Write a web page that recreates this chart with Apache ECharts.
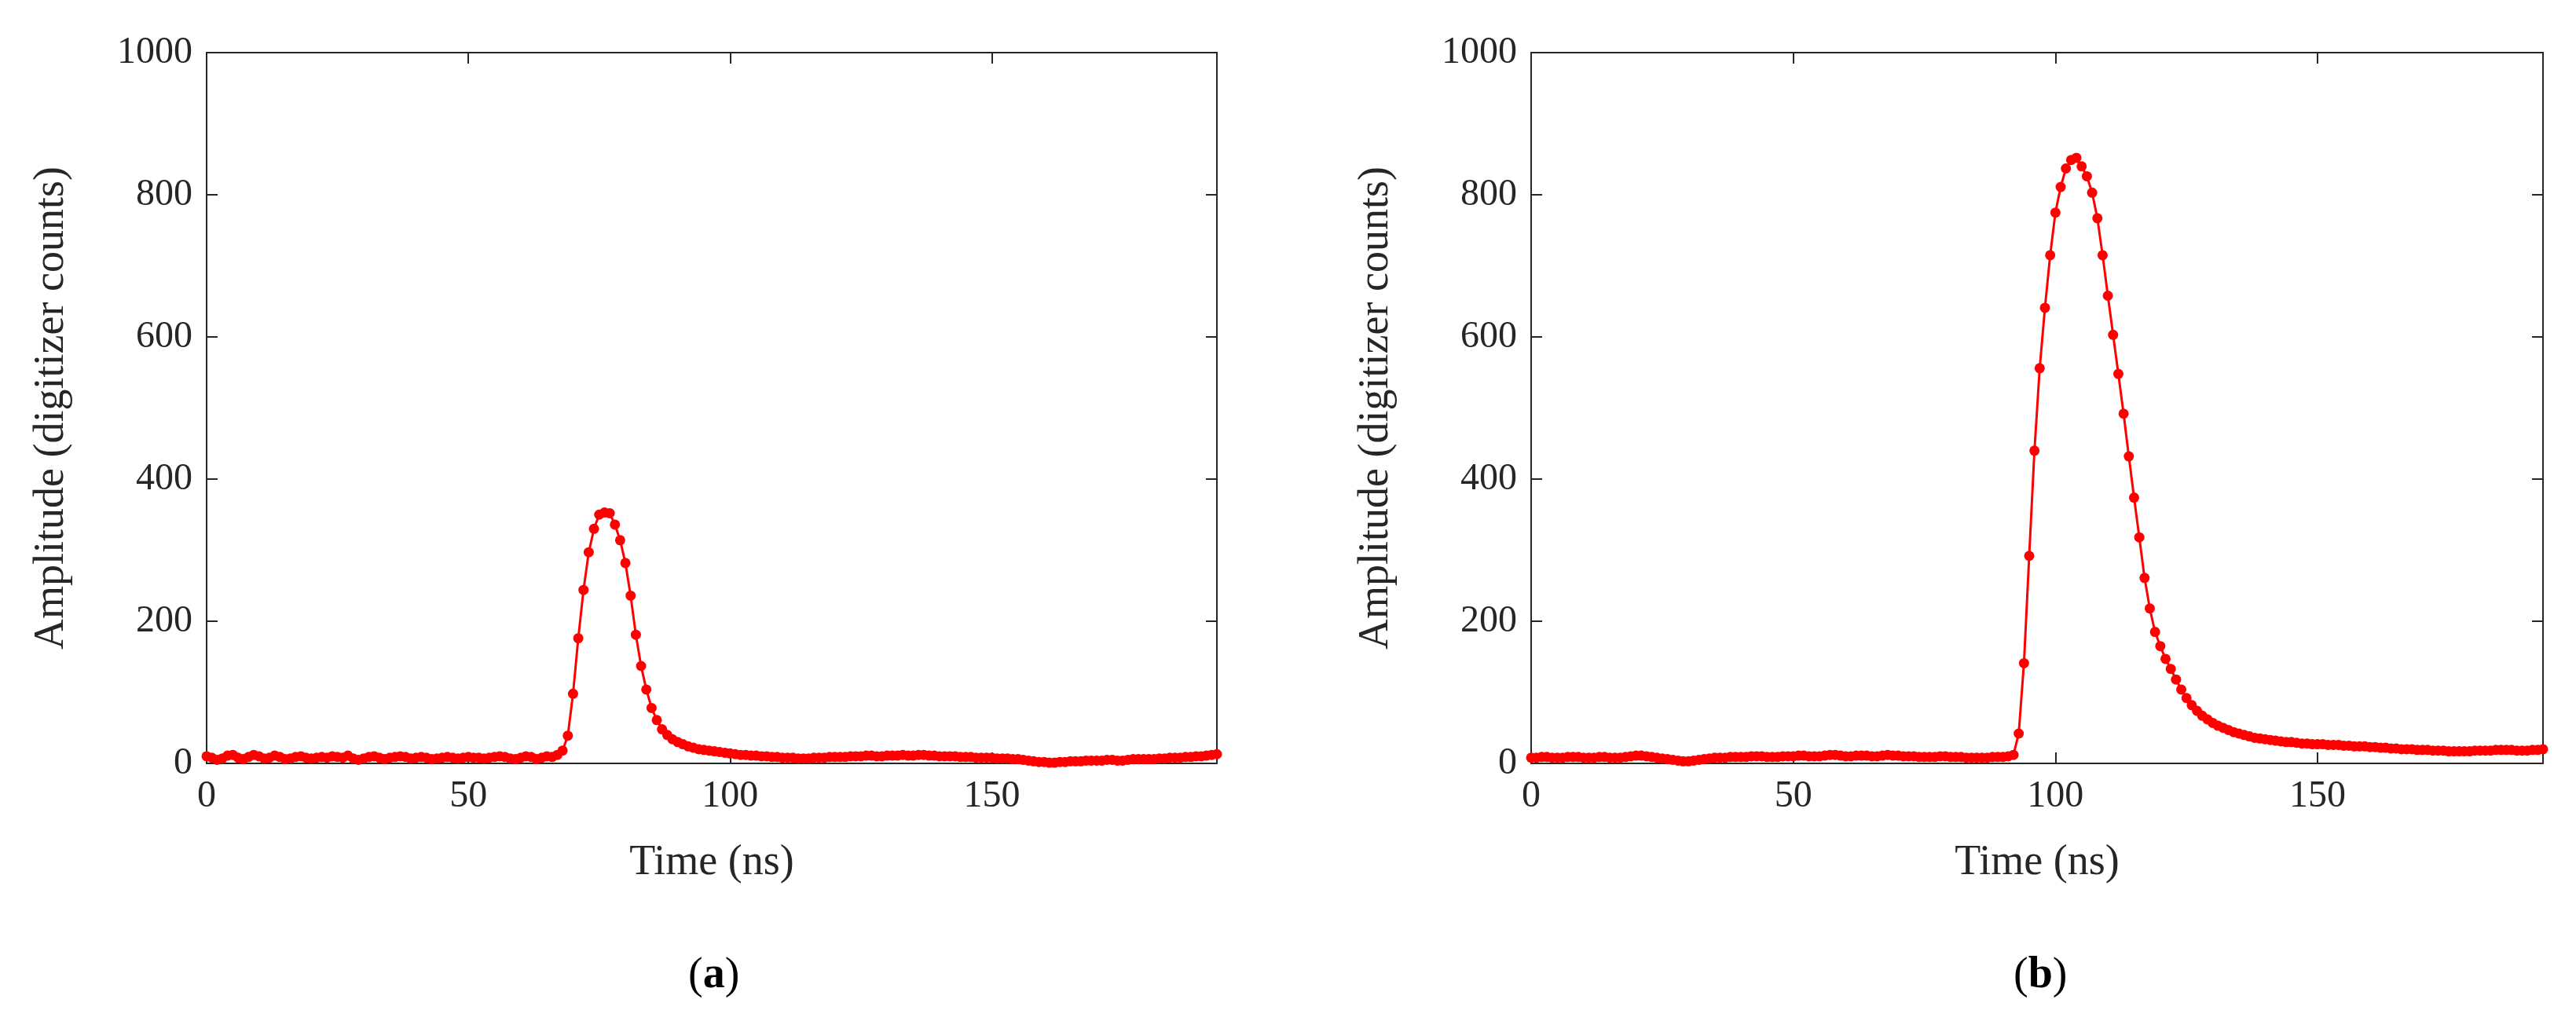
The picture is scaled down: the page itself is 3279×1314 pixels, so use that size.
<!DOCTYPE html>
<html><head><meta charset="utf-8">
<script src="https://cdn.jsdelivr.net/npm/echarts@6/dist/echarts.min.js"></script>
<style>html,body{margin:0;background:#fff}#c{width:3279px;height:1314px}</style>
</head><body><div id="c"></div>
<script>
const xTicks = [0, 50, 100, 150];
const yTicks = [0, 200, 400, 600, 800, 1000];
const ampA = [
10,8,5,7,11,12,8,6,9,12,
10,7,8,11,9,6,7,9,10,8,
7,8,9,8,10,9,8,11,7,5,
7,9,10,8,6,8,9,10,9,7,
8,9,8,6,7,8,9,8,7,8,
9,8,8,7,8,9,10,9,7,6,
8,10,9,6,8,10,9,12,
18,
39,98,176,244,297,330,350,353,352,336,314,282,236,181,137,104,78,61,48,40,34,30,27,24,22,20,19,18,17,16,15,14,
13,12,12,11,11,10,10,9,9,8,
8,8,7,7,7,8,8,8,9,9,
9,9,10,10,10,11,11,10,10,11,
11,11,12,11,11,12,12,11,11,10,
10,10,10,9,9,9,8,8,8,8,
7,7,7,6,6,5,4,3,2,2,
1,1,2,2,3,3,3,4,4,4,
4,5,5,4,4,5,6,6,6,6,
6,7,7,8,8,8,9,9,10,10,
11,12,13];
const ampB = [
8,8,9,9,8,8,8,9,9,9,
8,8,8,9,9,8,8,8,9,10,
11,11,10,9,8,7,6,5,4,3,
3,4,5,6,7,8,8,8,9,9,
9,9,10,10,10,9,9,9,10,10,
10,11,11,10,10,10,11,12,12,11,
10,10,11,11,11,10,10,11,12,11,
11,10,10,10,9,9,9,9,10,10,
9,9,9,8,8,8,8,8,9,9,
9,10,12,
42,141,292,440,556,641,715,775,811,837,849,852,840,826,803,767,715,658,603,548,492,432,374,318,261,218,185,165,147,133,118,104,92,82,74,67,62,57,53,50,47,44,42,40,38,36,35,34,
33,32,31,30,30,29,28,28,27,27,
27,26,26,26,25,25,24,24,24,23,
23,22,22,21,21,20,20,20,19,19,
19,18,18,18,17,17,17,17,17,18,
18,18,18,19,19,19,19,18,18,18,
19,19,20];
const panelLabels = ['a', 'b'];

const font = 'Liberation Serif';
const col = '#262626';
const grids = [
  {left: 263, top: 67, width: 1286, height: 905},
  {left: 1949, top: 67, width: 1288, height: 905}
];
const xAxis = [], yAxis = [], series = [];
function common() {
  return {min: 0, axisLine: {show: true, onZero: false, lineStyle: {color: col, width: 2}},
    axisTick: {show: true, inside: true, length: 14, lineStyle: {color: col, width: 2}},
    splitLine: {show: false}};
}
[ampA, ampB].forEach((amp, i) => {
  xAxis.push(Object.assign(common(), {type: 'value', gridIndex: i, position: 'bottom', max: 193, interval: 50,
    name: 'Time (ns)', nameLocation: 'middle', nameGap: 100,
    nameTextStyle: {fontFamily: font, fontSize: 54, color: col},
    axisLabel: {fontFamily: font, fontSize: 48, color: col, margin: 18, showMaxLabel: false}}));
  xAxis.push(Object.assign(common(), {type: 'value', gridIndex: i, max: 193, interval: 50, position: 'top', axisLabel: {show: false}}));
  yAxis.push(Object.assign(common(), {type: 'value', gridIndex: i, position: 'left', max: 1000, interval: 200,
    name: 'Amplitude (digitizer counts)', nameLocation: 'middle', nameGap: 170,
    nameTextStyle: {fontFamily: font, fontSize: 54, color: col},
    axisLabel: {fontFamily: font, fontSize: 48, color: col, margin: 18, formatter: v => String(v)}}));
  yAxis.push(Object.assign(common(), {type: 'value', gridIndex: i, max: 1000, interval: 200, position: 'right', axisLabel: {show: false}}));
  series.push({type: 'line', xAxisIndex: 2*i, yAxisIndex: 2*i,
    data: amp.map((v, t) => [t, v]), symbol: 'circle', symbolSize: 13,
    itemStyle: {color: '#ff0000'}, lineStyle: {color: '#ff0000', width: 3}, animation: false});
});
const graphic = panelLabels.map((l, i) => ({type: 'text', left: grids[i].left + grids[i].width/2 - 30, top: 1215,
  style: {rich: {p: {fontFamily: font, fontSize: 56, fill: '#000'}, b: {fontFamily: font, fontSize: 56, fontWeight: 'bold', fill: '#000'}},
    text: '{p|(}{b|' + l + '}{p|)}'}}));
const chart = echarts.init(document.getElementById('c'));
chart.setOption({animation: false, grid: grids, xAxis, yAxis, series, graphic});
</script></body></html>
